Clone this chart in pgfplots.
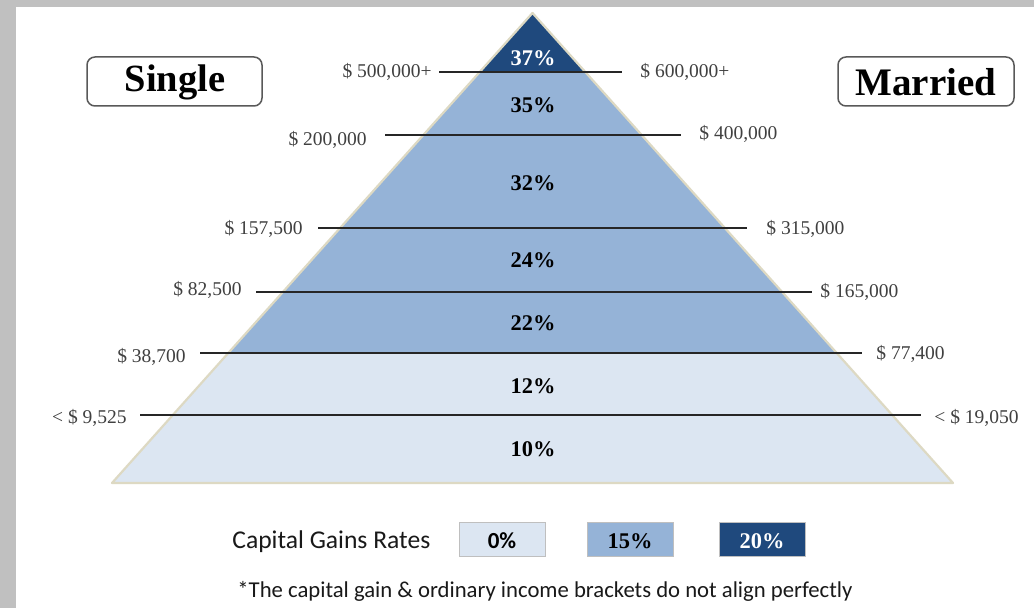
\documentclass[border=0pt]{standalone}
\usepackage{pgfplots}
\pgfplotsset{compat=1.18}
\usepackage{fontspec}
\setmainfont{Liberation Serif}
\newfontfamily\calfont{Carlito}
\definecolor{cgdark}{HTML}{1F497D}
\definecolor{cgmed}{HTML}{95B3D7}
\definecolor{cglight}{HTML}{DCE6F2}
\definecolor{edge}{HTML}{DDD9C3}
\definecolor{bggray}{HTML}{C0C0C0}
\definecolor{lbl}{HTML}{404040}
\tikzset{
  dollar/.style={font=\fontsize{9.75}{11}\selectfont, text=lbl, inner sep=0pt},
  pct/.style={font=\bfseries\fontsize{11.2}{13}\selectfont, inner sep=0pt},
}
\begin{document}
\begin{tikzpicture}
\begin{axis}[
  scale only axis, width=517pt, height=304pt,
  xmin=0, xmax=1034, ymin=0, ymax=608, y dir=reverse,
  hide axis, clip=false,
]
% background
\addplot[fill=bggray, draw=none] coordinates {(0,0) (1034,0) (1034,608) (0,608)} -- cycle;
\addplot[fill=white, draw=none] coordinates {(16,7) (1034,7) (1034,608) (16,608)} -- cycle;
% pyramid bands
\addplot[fill=cglight, draw=none] coordinates {(228.3,353) (836.7,353) (953,483) (112,483)} -- cycle;
\addplot[fill=cgmed, draw=none] coordinates {(479.7,72) (585.3,72) (836.7,353) (228.3,353)} -- cycle;
\addplot[fill=cgdark, draw=none] coordinates {(532.5,13) (585.3,72) (479.7,72)} -- cycle;
% outline
\addplot[draw=edge, line width=1.1pt, line join=round] coordinates {(532.5,13) (953,483) (112,483)} -- cycle;
% bracket lines
\addplot[draw=black!85, line width=0.9pt] coordinates {(439,72) (622,72)};
\addplot[draw=black!85, line width=0.9pt] coordinates {(385,135) (681,135)};
\addplot[draw=black!85, line width=0.9pt] coordinates {(318,228) (747,228)};
\addplot[draw=black!85, line width=0.9pt] coordinates {(256,292) (812,292)};
\addplot[draw=black!85, line width=0.9pt] coordinates {(200,353) (862,353)};
\addplot[draw=black!85, line width=0.9pt] coordinates {(140,415) (921,415)};
% percent labels
\node[pct, text=white] at (533,58) {37\%};
\node[pct] at (533,105) {35\%};
\node[pct] at (533,183) {32\%};
\node[pct] at (533,260) {24\%};
\node[pct] at (533,323) {22\%};
\node[pct] at (533,386) {12\%};
\node[pct] at (533,449) {10\%};
% left labels
\node[dollar, anchor=east] at (432,72) {\$ 500,000+};
\node[dollar, anchor=east] at (367,140) {\$ 200,000};
\node[dollar, anchor=east] at (303,229) {\$ 157,500};
\node[dollar, anchor=east] at (242,290) {\$ 82,500};
\node[dollar, anchor=east] at (186,357) {\$ 38,700};
\node[dollar, anchor=east] at (127,418) {< \$ 9,525};
% right labels
\node[dollar, anchor=west] at (640,72) {\$ 600,000+};
\node[dollar, anchor=west] at (699,134) {\$ 400,000};
\node[dollar, anchor=west] at (766,229) {\$ 315,000};
\node[dollar, anchor=west] at (820,292) {\$ 165,000};
\node[dollar, anchor=west] at (876,354) {\$ 77,400};
\node[dollar, anchor=west] at (934,418) {< \$ 19,050};
% title boxes
\draw[black!65, line width=0.75pt, rounded corners=4pt, fill=white] (87,57) rectangle (262,106);
\node[font=\bfseries\fontsize{19.25}{22}\selectfont, inner sep=0pt] at (175,82) {Single};
\draw[black!65, line width=0.75pt, rounded corners=4pt, fill=white] (838,57) rectangle (1014,106);
\node[font=\bfseries\fontsize{19.5}{22}\selectfont, inner sep=0pt] at (926,82) {Married};
% legend
\node[font=\calfont\fontsize{12.8}{14}\selectfont, anchor=west, inner sep=0pt, text=black!90] at (232,542) {Capital Gains Rates};
\draw[fill=cglight, draw=black!25, line width=0.5pt] (459,523) rectangle (545,557);
\node[font=\calfont\bfseries\fontsize{11.5}{13}\selectfont, inner sep=0pt] at (502,541) {0\%};
\draw[fill=cgmed, draw=black!25, line width=0.5pt] (587,523) rectangle (673,557);
\node[pct] at (630,541) {15\%};
\draw[fill=cgdark, draw=black!25, line width=0.5pt] (719,523) rectangle (805,557);
\node[pct, text=white] at (762,541) {20\%};
\node[font=\calfont\fontsize{11.35}{13}\selectfont, anchor=west, inner sep=0pt, text=black!90] at (237,591) {*The capital gain \& ordinary income brackets do not align perfectly};
\end{axis}
\end{tikzpicture}
\end{document}
